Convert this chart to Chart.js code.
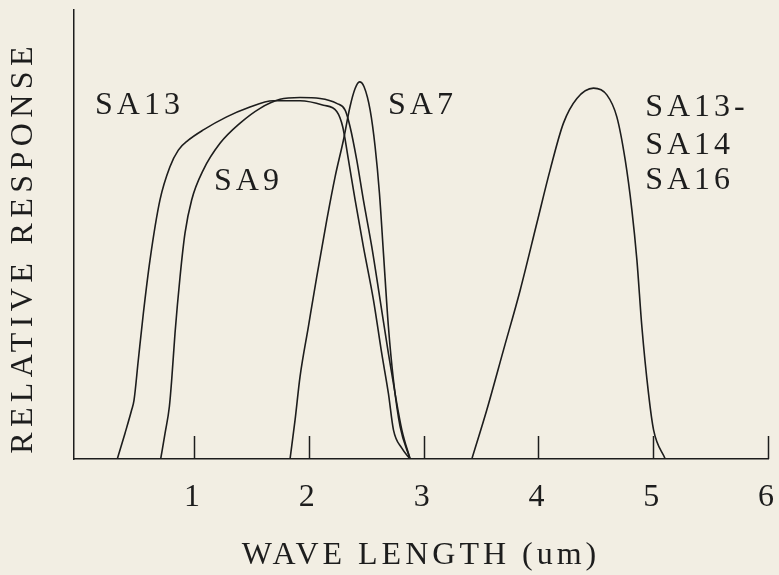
<!DOCTYPE html>
<html>
<head>
<meta charset="utf-8">
<title>Relative response vs wave length</title>
<script src="https://cdn.jsdelivr.net/npm/chart.js@4.4.0/dist/chart.umd.min.js"></script>
<style>
  html, body { margin: 0; padding: 0; background: #f2eee3; }
  #chart { display: block; }
</style>
</head>
<body>
<canvas id="chart" width="779" height="575"></canvas>
<script>
// response curves: wave length (um) and relative response, one pair of arrays per filter
const sa13Wave = [0.331, 0.398, 0.456, 0.477, 0.514, 0.558, 0.616, 0.703, 0.790, 0.863, 0.950, 1.081, 1.284, 1.459, 1.691, 1.923, 2.127, 2.243, 2.295, 2.345, 2.403, 2.475, 2.563, 2.635, 2.693, 2.737, 2.810, 2.882];
const sa13Resp = [0, 0.057, 0.109, 0.131, 0.220, 0.324, 0.443, 0.577, 0.651, 0.688, 0.710, 0.733, 0.762, 0.781, 0.798, 0.798, 0.788, 0.774, 0.740, 0.666, 0.577, 0.473, 0.354, 0.235, 0.146, 0.065, 0.024, 0];

const sa9Wave = [0.709, 0.747, 0.785, 0.805, 0.834, 0.878, 0.921, 0.979, 1.081, 1.226, 1.401, 1.575, 1.749, 1.923, 2.098, 2.243, 2.316, 2.359, 2.417, 2.475, 2.548, 2.621, 2.693, 2.751, 2.810, 2.882];
const sa9Resp = [0, 0.057, 0.117, 0.176, 0.280, 0.406, 0.503, 0.577, 0.644, 0.703, 0.748, 0.781, 0.801, 0.805, 0.803, 0.792, 0.777, 0.740, 0.666, 0.577, 0.473, 0.354, 0.235, 0.146, 0.065, 0];

const sa7Wave = [1.836, 1.880, 1.923, 1.996, 2.069, 2.156, 2.229, 2.301, 2.359, 2.403, 2.441, 2.481, 2.534, 2.577, 2.615, 2.650, 2.693, 2.737, 2.795, 2.882];
const sa7Resp = [0, 0.087, 0.183, 0.295, 0.406, 0.532, 0.629, 0.710, 0.785, 0.825, 0.840, 0.829, 0.777, 0.696, 0.592, 0.458, 0.295, 0.176, 0.072, 0];

const sa16Wave = [3.420, 3.550, 3.696, 3.841, 3.986, 4.102, 4.218, 4.335, 4.480, 4.596, 4.683, 4.756, 4.814, 4.858, 4.901, 4.959, 5.003, 5.105];
const sa16Resp = [0, 0.109, 0.243, 0.376, 0.525, 0.644, 0.748, 0.803, 0.826, 0.811, 0.762, 0.666, 0.555, 0.443, 0.295, 0.146, 0.065, 0];

const xTickValues = [1, 2, 3, 4, 5, 6];
const curveNames = ["SA13", "SA9", "SA7", "SA13-", "SA14", "SA16"];
const yTitle = "RELATIVE RESPONSE";

// where each curve name sits (left edge, vertical middle) in axis units
const nameAnchors = [
  [0.137, 0.786],
  [1.174, 0.617],
  [2.690, 0.786],
  [4.930, 0.782],
  [4.930, 0.699],
  [4.930, 0.621]
];

const INK = "#1d1d1d";
const FONT_FAMILY = "'Liberation Serif', 'DejaVu Serif', serif";

function toPoints(xs, ys) {
  return xs.map((x, i) => ({ x: x, y: ys[i] }));
}

function curve(label, xs, ys) {
  return {
    label: label,
    data: toPoints(xs, ys),
    showLine: true,
    borderColor: INK,
    borderWidth: 1.6,
    pointRadius: 0,
    cubicInterpolationMode: "monotone",
    fill: false
  };
}

// inward tick marks, curve names and the spaced-out vertical title
const plotMarks = {
  id: "plotMarks",
  beforeDraw(chart) {
    chart.ctx.letterSpacing = "4px";
  },
  afterDatasetsDraw(chart) {
    const { ctx, scales: { x, y } } = chart;
    ctx.save();
    ctx.strokeStyle = INK;
    ctx.lineWidth = 1.5;
    xTickValues.forEach(v => {
      const px = Math.round(x.getPixelForValue(v)) + 0.5;
      ctx.beginPath();
      ctx.moveTo(px, y.bottom);
      ctx.lineTo(px, y.bottom - 23);
      ctx.stroke();
    });
    ctx.fillStyle = INK;
    ctx.font = "32px " + FONT_FAMILY;
    ctx.textAlign = "left";
    ctx.textBaseline = "middle";
    curveNames.forEach((name, i) => {
      const a = nameAnchors[i];
      ctx.fillText(name, x.getPixelForValue(a[0]), y.getPixelForValue(a[1]));
    });

    // y title, a little below the middle of the axis
    ctx.letterSpacing = "5.4px";
    ctx.translate(24, (y.top + y.bottom) / 2 + 13);
    ctx.rotate(-Math.PI / 2);
    ctx.textAlign = "center";
    ctx.fillText(yTitle, 0, 0);
    ctx.restore();
  }
};

new Chart(document.getElementById("chart"), {
  type: "scatter",
  data: {
    datasets: [
      curve("SA13", sa13Wave, sa13Resp),
      curve("SA9", sa9Wave, sa9Resp),
      curve("SA7", sa7Wave, sa7Resp),
      curve("SA13-SA14 SA16", sa16Wave, sa16Resp)
    ]
  },
  options: {
    responsive: false,
    animation: false,
    layout: { padding: { top: 10, right: 11, left: 0, bottom: 0 } },
    plugins: {
      legend: { display: false },
      tooltip: { enabled: false }
    },
    scales: {
      x: {
        type: "linear",
        min: -0.046,
        max: 6,
        afterFit(scale) {
          scale.height = 116;
          scale.paddingLeft = 0;
          scale.paddingRight = 0;
        },
        afterBuildTicks(scale) {
          scale.ticks = xTickValues.map(v => ({ value: v }));
        },
        grid: { display: false, drawTicks: false },
        border: { display: true, color: INK, width: 1.5 },
        ticks: {
          padding: 19,
          color: INK,
          font: { family: FONT_FAMILY, size: 32 },
          maxRotation: 0
        },
        title: {
          display: true,
          text: "WAVE LENGTH (um)",
          color: INK,
          font: { family: FONT_FAMILY, size: 32 },
          padding: { top: 0, bottom: 0 }
        }
      },
      y: {
        min: 0,
        max: 1,
        afterFit(scale) { scale.width = 74; },
        grid: { display: false, drawTicks: false },
        border: { display: true, color: INK, width: 1.5 },
        ticks: { display: false },
        title: { display: false }
      }
    }
  },
  plugins: [plotMarks]
});
</script>
</body>
</html>
